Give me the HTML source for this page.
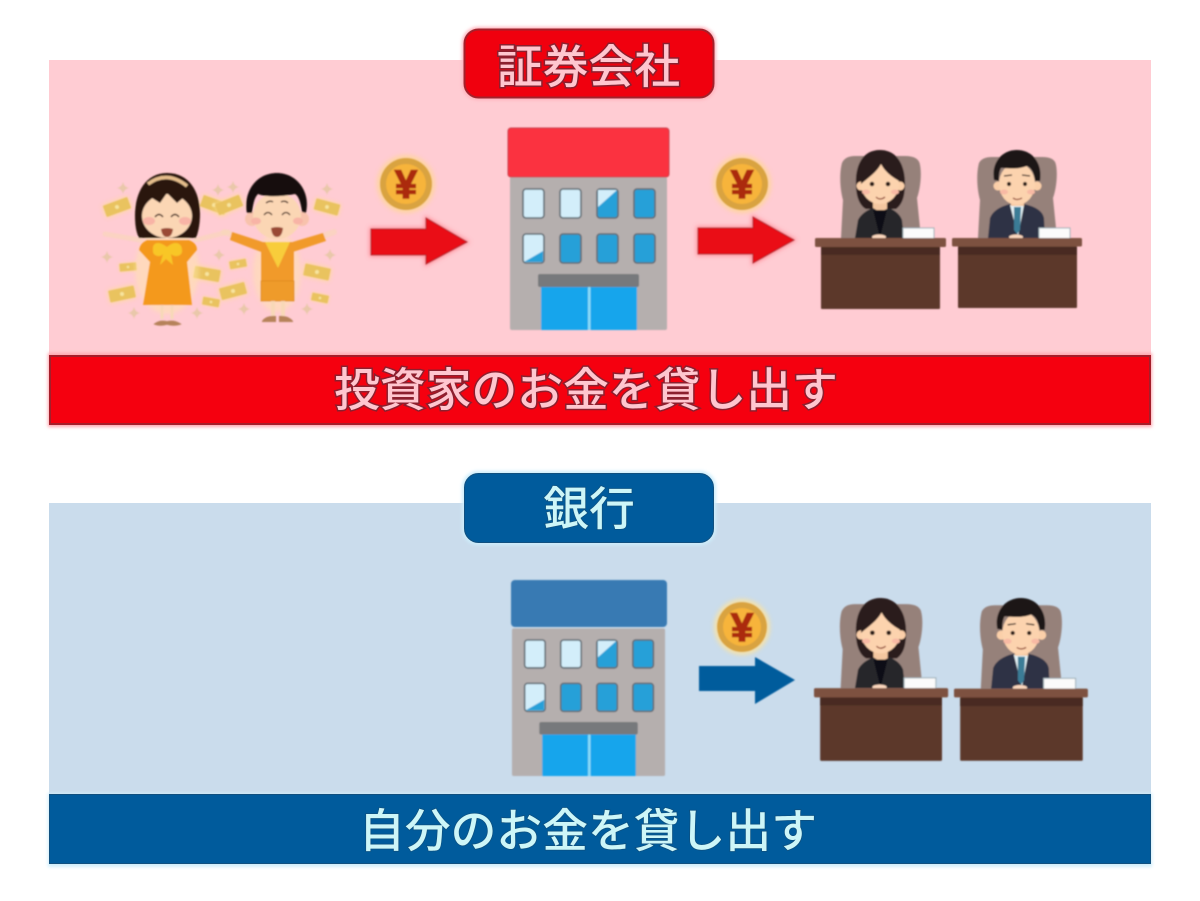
<!DOCTYPE html>
<html lang="ja">
<head>
<meta charset="utf-8">
<title>証券会社と銀行</title>
<style>
html,body{margin:0;padding:0;background:#fff;width:1200px;height:901px;overflow:hidden}
svg{display:block}
text{font-family:"Liberation Sans","Noto Sans CJK JP",sans-serif}
.r{fill:#ffc6cf;stroke:#8c1f2e;stroke-width:3;paint-order:stroke;text-anchor:middle;font-size:45.8px;font-family:"Noto Sans CJK JP",sans-serif;font-weight:500}
.b{fill:#cdf6f8;stroke:#0d4f7e;stroke-width:1.5;paint-order:stroke;text-anchor:middle;font-size:45.8px;font-family:"Noto Sans CJK JP",sans-serif;font-weight:500}
.y{fill:#ab2c10;stroke:#ab2c10;stroke-width:1.6;text-anchor:middle;font-size:40px;font-weight:700;font-family:"Liberation Sans",sans-serif}
</style>
</head>
<body>
<svg width="1200" height="901" viewBox="0 0 1200 901" xmlns="http://www.w3.org/2000/svg">
<defs>
<filter id="s" x="-5%" y="-5%" width="110%" height="110%"><feGaussianBlur stdDeviation="0.7"/></filter>
<filter id="g" x="-20%" y="-40%" width="140%" height="180%"><feGaussianBlur stdDeviation="1.6"/></filter>
<filter id="g2" x="-60%" y="-60%" width="220%" height="220%"><feGaussianBlur stdDeviation="2"/></filter>

<g id="bld">
<rect x="510" y="177" width="157" height="153" rx="2" fill="#b5afae"/>
<g fill="#25a0d8" stroke="#5f6a72" stroke-width="1.6">
<rect x="523" y="189" width="21" height="29" rx="3" fill="#d3eefa"/>
<rect x="560" y="189" width="21" height="29" rx="3" fill="#d3eefa"/>
<rect x="597" y="189" width="21" height="29" rx="3"/>
<rect x="634" y="189" width="21" height="29" rx="3"/>
<rect x="523" y="234" width="21" height="29" rx="3" fill="#d3eefa"/>
<rect x="560" y="234" width="21" height="29" rx="3"/>
<rect x="597" y="234" width="21" height="29" rx="3"/>
<rect x="634" y="234" width="21" height="29" rx="3"/>
</g>
<path d="M598 207L598 190L617 190Z" fill="#d3eefa"/>
<path d="M524 262L543 251L543 262Z" fill="#25a0d8"/>
<rect x="541" y="285" width="96" height="45" fill="#12a5ec"/>
<rect x="588" y="287" width="2.5" height="43" fill="#8adcf8"/>
<rect x="538" y="274" width="101" height="13" rx="2" fill="#77797c"/>
</g>

<g id="woman">
<path d="M841 238L843 200C839 185 840 170 842 163Q845 156 855 156L905 156Q919 156 920 165C922 175 920 190 917 198L921 238Z" fill="#96817a"/>
<path d="M880 150C861 150 855 168 856 185C856 197 860 206 866 209L896 209C903 204 905 195 905 183C905 165 897 150 880 150Z" fill="#2c1a1a"/>
<rect x="873" y="200" width="14" height="12" fill="#f4c7a0"/>
<path d="M855 238L858 220Q862 212 873 208L880 212L889 208Q899 212 902 220L904 238Z" fill="#25262b"/>
<path d="M873 210L880 238L887 210Z" fill="#111114"/>
<circle cx="861" cy="186" r="4.5" fill="#fbcfa9"/><circle cx="900" cy="186" r="4.5" fill="#fbcfa9"/>
<ellipse cx="880" cy="184" rx="19" ry="20" fill="#fcd3ae"/>
<path d="M861 184C861 170 868 160 880 159C892 160 901 172 901 182C893 178 885 172 881 164C877 172 868 178 861 184Z" fill="#2c1a1a"/>
<circle cx="872" cy="184" r="2.3" fill="#2b1b18"/><circle cx="888" cy="184" r="2.3" fill="#2b1b18"/>
<ellipse cx="866" cy="192" rx="4" ry="2.5" fill="#f8b9a4"/><ellipse cx="895" cy="192" rx="4" ry="2.5" fill="#f8b9a4"/>
<path d="M876 197Q880 201 885 197" fill="none" stroke="#8b3d2c" stroke-width="1.2"/>
<ellipse cx="879" cy="237" rx="7" ry="2.5" fill="#fbd7bd"/>
<rect x="903" y="228" width="31" height="11" fill="#fbfbfb" stroke="#9fb0b8"/>
<rect x="821" y="246" width="119" height="63" rx="1" fill="#5c392b"/>
<rect x="821" y="247" width="119" height="8" fill="#4a2b20"/>
<rect x="815" y="238" width="131" height="9" rx="1.5" fill="#7d5140"/>
</g>

<g id="man">
<path d="M978 238L980 200C976 185 977 170 979 163Q982 157 992 157L1042 157Q1055 157 1056 165C1058 175 1056 190 1053 198L1057 238Z" fill="#96817a"/>
<path d="M988 238L990 218Q994 208 1010 204L1024 204Q1042 208 1044 218L1045 238Z" fill="#2d3345"/>
<path d="M1010 205L1018 236L1024 205Z" fill="#e6f3f6"/>
<path d="M1014 207L1021 207L1020 230L1017 234L1014 230Z" fill="#3b7b96"/>
<rect x="1011" y="198" width="13" height="8" fill="#f4c7a0"/>
<circle cx="998" cy="186" r="4.5" fill="#fbcfa9"/><circle cx="1037" cy="186" r="4.5" fill="#fbcfa9"/>
<ellipse cx="1017" cy="184" rx="18" ry="21" fill="#fcd3ae"/>
<path d="M994 180C991 165 1000 150 1017 150C1033 150 1043 164 1040 181L1035 181C1034 172 1031 168 1027 166C1017 170 1006 168 1001 168C999 172 999 176 999 181Z" fill="#1e1616"/>
<circle cx="1009" cy="184" r="2.1" fill="#2b1b18"/><circle cx="1025" cy="184" r="2.1" fill="#2b1b18"/>
<path d="M1004 176L1012 175M1022 175L1030 176" stroke="#2b1b18" stroke-width="1.3"/>
<ellipse cx="1004" cy="192" rx="4" ry="2.5" fill="#f8b9a4"/><ellipse cx="1031" cy="192" rx="4" ry="2.5" fill="#f8b9a4"/>
<path d="M1013 198Q1017 201 1022 198" fill="none" stroke="#8b3d2c" stroke-width="1.2"/>
<ellipse cx="1016" cy="237" rx="7" ry="2.5" fill="#fbd7bd"/>
<rect x="1039" y="228" width="31" height="11" fill="#fbfbfb" stroke="#9fb0b8"/>
<rect x="958" y="246" width="119" height="62" rx="1" fill="#5c392b"/>
<rect x="958" y="247" width="119" height="8" fill="#4a2b20"/>
<rect x="952" y="238" width="130" height="8.5" rx="1.5" fill="#7d5140"/>
</g>

<path id="sp" d="M0-6Q1-1 6 0Q1 1 0 6Q-1 1-6 0Q-1-1 0-6Z" fill="#e8c8a8"/>
<g id="m"><rect x="-14" y="-7" width="28" height="14" rx="3" fill="#ffe08a" opacity=".7" filter="url(#g2)"/><rect x="-13" y="-6" width="26" height="12" rx="1" fill="#e8c25a"/><circle r="2" fill="#f7e59a"/></g>
</defs>

<rect width="1200" height="901" fill="#fff"/>

<!-- red section -->
<rect x="49" y="60" width="1102" height="296" fill="#ffccd3"/>
<rect x="48" y="353" width="1104" height="74" fill="#ffa4ad" filter="url(#g)"/>
<rect x="50" y="356" width="1100" height="68" fill="#f5000f" stroke="#a51e2a" stroke-width="2"/>
<rect x="462" y="27" width="254" height="73" rx="16" fill="#ffb0ba" filter="url(#g)"/>
<rect x="464.500" y="29.500" width="249" height="68" rx="14" fill="#f0000e" stroke="#a2222c" stroke-width="2"/>
<text class="r" x="588.500" y="83">証券会社</text>
<text class="r" x="586" y="406">投資家のお金を貸し出す</text>

<!-- blue section -->
<rect x="49" y="503" width="1102" height="291" fill="#cadcec"/>
<rect x="48" y="793" width="1104" height="74" fill="#cfeefb" filter="url(#g)"/>
<rect x="49.500" y="794.500" width="1101" height="69" fill="#005b9c" stroke="#11507f" stroke-width="1"/>
<rect x="462" y="471" width="254" height="74" rx="16" fill="#cdeefc" filter="url(#g)"/>
<rect x="464.500" y="473.500" width="249" height="69" rx="14" fill="#005b9c" stroke="#11507f" stroke-width="1"/>
<text class="b" x="589" y="525">銀行</text>
<text class="b" x="588" y="847">自分のお金を貸し出す</text>

<g filter="url(#s)">
<!-- couple -->
<g opacity=".95">
<use href="#m" transform="translate(117 207) rotate(-20)"/>
<use href="#m" transform="translate(214 205) rotate(20)"/>
<use href="#m" transform="translate(229 205) rotate(-22)"/>
<use href="#m" transform="translate(327 207) rotate(15) scale(.95)"/>
<use href="#m" transform="translate(128 267) rotate(-5) scale(.65)"/>
<use href="#m" transform="translate(238 264) rotate(-10) scale(.65)"/>
<use href="#m" transform="translate(207 274) rotate(10)"/>
<use href="#m" transform="translate(317 272) rotate(12)"/>
<use href="#m" transform="translate(122 294) rotate(-12)"/>
<use href="#m" transform="translate(233 291) rotate(-15)"/>
<use href="#m" transform="translate(211 302) rotate(10) scale(.65)"/>
<use href="#m" transform="translate(320 298) rotate(12) scale(.65)"/>
<use href="#sp" x="123" y="188"/><use href="#sp" x="218" y="190"/><use href="#sp" x="233" y="187"/><use href="#sp" x="327" y="189"/>
<use href="#sp" x="107" y="257"/><use href="#sp" x="219" y="255"/><use href="#sp" x="330" y="255"/><use href="#sp" x="134" y="313"/>
<use href="#sp" x="197" y="313"/><use href="#sp" x="244" y="309"/><use href="#sp" x="307" y="309"/>
</g>
<!-- woman figure -->
<path d="M105 234L140 240M196 240L228 232" stroke="#f8d8b8" stroke-width="5" stroke-linecap="round" opacity=".6"/>
<ellipse cx="167" cy="270" rx="32" ry="44" fill="#ffe6a8" opacity=".5" filter="url(#g2)"/>
<path d="M167 173C146 173 135 192 135 215C135 225 136 232 139 238L196 238C199 230 200 222 200 214C200 190 188 173 167 173Z" fill="#2a1510"/>
<path d="M148 184Q167 170 187 186" fill="none" stroke="#e5bd8b" stroke-width="3.500"/>
<ellipse cx="167" cy="216" rx="25" ry="22" fill="#fbd6b4"/>
<path d="M143 206C145 190 158 186 167 186C178 186 190 192 192 206L183 198L177 203L167 193L160 203L152 198Z" fill="#2a1510"/>
<ellipse cx="149" cy="221" rx="6" ry="4" fill="#f8b4a6"/><ellipse cx="185" cy="221" rx="6" ry="4" fill="#f8b4a6"/>
<path d="M155 217Q159 212 163 217M171 217Q175 212 179 217" fill="none" stroke="#3a2016" stroke-width="1.400"/>
<path d="M161 229Q167 227 173 229Q172 237 167 237Q162 237 161 229Z" fill="#9a4a34"/>
<path d="M147 240L189 240Q197 243 197 250L187 262L192 305L143 305L150 262L139 250Q140 243 147 240Z" fill="#f4991e"/>
<path d="M167 247C158 240 152 243 153 250C152 256 160 258 163 254L160 265L166 259L173 265L171 254C175 258 183 256 182 250C182 243 175 240 167 247Z" fill="#f8c628"/>
<path d="M162 305L162 319M172 305L172 319" stroke="#f8d8b8" stroke-width="3"/>
<path d="M155 324Q160 320 167 322Q174 320 180 324Q174 326 167 324Q160 326 155 324Z" fill="#b6825a" stroke="#b6825a" stroke-width="1.500"/>
<!-- man figure -->
<ellipse cx="277" cy="272" rx="24" ry="40" fill="#ffe6a8" opacity=".45" filter="url(#g2)"/>
<path d="M230 234L224 232M323 236L334 232" stroke="#f8d8b8" stroke-width="6" stroke-linecap="round" opacity=".6"/>
<path d="M232 232L266 243L261 252L230 240Z" fill="#f19a2a"/>
<path d="M323 233L289 243L293 252L326 241Z" fill="#f19a2a"/>
<rect x="261" y="242" width="33" height="40" fill="#f19a2a"/>
<rect x="261" y="281" width="33" height="20" fill="#ef9b2c" stroke="#dc8a20" stroke-width=".8"/>
<path d="M265 242L290 242L278 268Z" fill="#f8cd3a"/>
<path d="M273 301L273 316M283 301L283 316" stroke="#f8d8b8" stroke-width="4"/>
<path d="M262 321Q266 315 276 316L276 322L262 322ZM279 316Q288 315 293 321L293 322L279 322Z" fill="#b6825a"/>
<circle cx="252" cy="219" r="7" fill="#f8c2ac"/><circle cx="302" cy="219" r="7" fill="#f8c2ac"/>
<ellipse cx="277" cy="216" rx="24" ry="23" fill="#fbd6b4"/>
<path d="M247 213C243 192 256 173 277 173C297 173 311 192 306 213L302 212C301 204 299 196 295 194C280 197 265 197 258 194C254 198 253 205 252 213Z" fill="#17110f"/>
<ellipse cx="256" cy="221" rx="5" ry="3.500" fill="#f8b4a6"/><ellipse cx="298" cy="221" rx="5" ry="3.500" fill="#f8b4a6"/>
<path d="M264 215Q268 210 272 215M282 215Q286 210 290 215M266 203Q270 200 273 202M281 202Q285 200 288 203" fill="none" stroke="#3a2016" stroke-width="1.300"/>
<path d="M271 228Q277 226 283 228Q282 237 277 237Q272 237 271 228Z" fill="#9a4a34"/>

<!-- coins -->
<circle cx="406" cy="184" r="29" fill="#ffd98a" opacity=".7" filter="url(#g2)"/>
<circle cx="406" cy="184" r="26" fill="#d9a33f"/>
<circle cx="406" cy="184" r="20" fill="#f7b43b"/>
<text class="y" x="406" y="198">¥</text>
<circle cx="742" cy="184" r="29" fill="#ffd98a" opacity=".7" filter="url(#g2)"/>
<circle cx="742" cy="184" r="26" fill="#d9a33f"/>
<circle cx="742" cy="184" r="20" fill="#f7b43b"/>
<text class="y" x="742" y="198">¥</text>
<circle cx="742" cy="627" r="28" fill="#ffe39a" opacity=".8" filter="url(#g2)"/>
<circle cx="742" cy="627" r="25" fill="#d9a33f"/>
<circle cx="742" cy="627" r="19" fill="#f7b43b"/>
<text class="y" x="742" y="641">¥</text>

<!-- arrows -->
<path d="M371 229L426 229L426 218L467 242L426 264L426 255L371 255Z" fill="#ff8a94" stroke="#ff8a94" stroke-width="3" filter="url(#g2)"/>
<path d="M371 229L426 229L426 218L467 242L426 264L426 255L371 255Z" fill="#ea0816" stroke="#ad1c26" stroke-width="1"/>
<path d="M698 228L753 228L753 217L794 240L753 263L753 254L698 254Z" fill="#ff8a94" stroke="#ff8a94" stroke-width="3" filter="url(#g2)"/>
<path d="M698 228L753 228L753 217L794 240L753 263L753 254L698 254Z" fill="#ea0816" stroke="#ad1c26" stroke-width="1"/>
<path d="M699 666L755 666L755 657L795 680L755 704L755 691L699 691Z" fill="#005b9c"/>

<!-- buildings -->
<use href="#bld"/>
<rect x="508" y="128" width="161" height="49" rx="3" fill="#fb3140" stroke="#c9404c" stroke-width="1"/>
<use href="#bld" transform="translate(512 639) scale(.975 .965) translate(-510 -188)"/>
<rect x="511" y="580" width="156" height="47" rx="4" fill="#377ab3"/>

<!-- officers -->
<use href="#woman"/>
<use href="#man"/>
<use href="#woman" transform="translate(814 598) scale(1.024) translate(-815 -150)"/>
<use href="#man" transform="translate(954 598) scale(1.03) translate(-952 -150)"/>
</g>
</svg>
</body>
</html>
